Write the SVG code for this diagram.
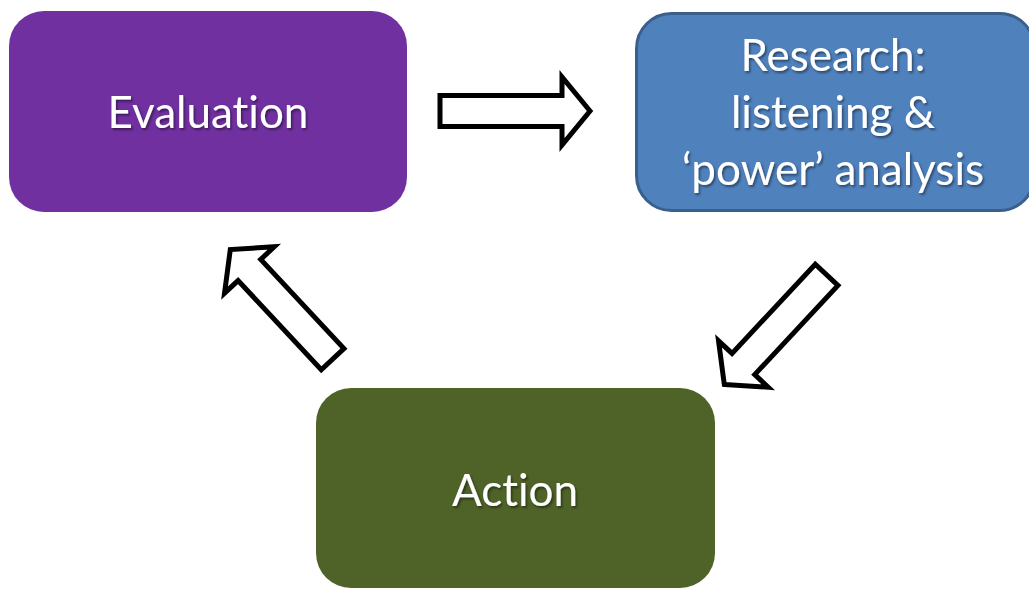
<svg xmlns="http://www.w3.org/2000/svg" width="1029" height="589" viewBox="0 0 1029 589">
  <style>
    .lbl { font-family: Lato, "Open Sans", "Liberation Sans", sans-serif; font-size: 44px; fill: #ffffff; text-anchor: middle; filter: url(#ts); font-variant-ligatures: none; }
    .arrow { fill: #ffffff; stroke: #000000; stroke-width: 5; stroke-linejoin: miter; stroke-miterlimit: 10; }
  </style>
  <defs>
    <filter id="ts" x="-10%" y="-30%" width="120%" height="160%">
      <feDropShadow dx="1.5" dy="2" stdDeviation="1.2" flood-color="#000000" flood-opacity="0.45"/>
    </filter>
    <path id="arr" d="M0,0 L-28,-34 L-28,-15.5 L-150,-15.5 L-150,15.5 L-28,15.5 L-28,34 Z"/>
  </defs>
  <rect width="1029" height="589" fill="#ffffff"/>
  <g id="evaluation">
    <rect x="9" y="11" width="398" height="201" rx="35" fill="#7030A0"/>
    <text class="lbl" x="208" y="128">Evaluation</text>
  </g>
  <g id="research">
    <rect x="636.5" y="13.5" width="398" height="197" rx="35" fill="#4F81BD" stroke="#3A5F8B" stroke-width="3"/>
    <text class="lbl" x="833" y="71">Research:</text>
    <text class="lbl" x="833" y="128">listening &amp;</text>
    <text class="lbl" x="833" y="185">‘power’ analysis</text>
  </g>
  <g id="action">
    <rect x="316" y="388" width="399" height="200" rx="35" fill="#4F6228"/>
    <text class="lbl" x="515" y="506">Action</text>
  </g>
  <g id="connectors">
    <use href="#arr" class="arrow" transform="translate(590,111)"/>
    <use href="#arr" class="arrow" transform="translate(724.3,384.5) rotate(133)"/>
    <use href="#arr" class="arrow" transform="translate(230.3,249.5) rotate(-133)"/>
  </g>
</svg>
